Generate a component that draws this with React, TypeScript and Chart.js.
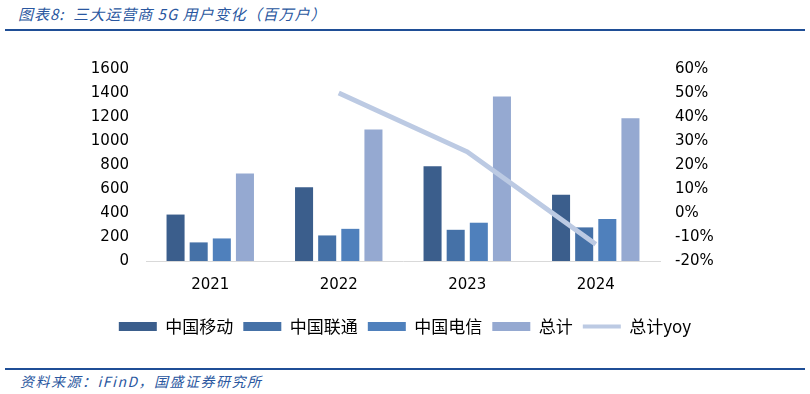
import React, { useEffect, useRef } from "react";
import { Chart, registerables } from "chart.js";

Chart.register(...registerables);

const categories = ["2021", "2022", "2023", "2024"];
const chinaMobile = [387, 614, 790, 552];
const chinaUnicom = [155, 213, 260, 280];
const chinaTelecom = [188, 268, 319, 350];
const total = [730, 1095, 1370, 1190];
const totalYoy = [null, 50, 25.5, -13];

const leftTicks = [0, 200, 400, 600, 800, 1000, 1200, 1400, 1600];
const rightTicks = [-20, -10, 0, 10, 20, 30, 40, 50, 60];

const seriesNames = ["中国移动", "中国联通", "中国电信", "总计", "总计yoy"];
const colors = ["#3B5E8C", "#4571A7", "#4F80BC", "#95A9D1", "#BCCAE3"];

const TITLE = "图表8:  三大运营商 5G 用户变化（百万户）";
const SOURCE = "资料来源：iFinD，国盛证券研究所";

export default function App() {
  const ref = useRef<HTMLCanvasElement | null>(null);

  useEffect(() => {
    document.body.style.margin = "0";
    const canvas = ref.current;
    if (!canvas) return;
    const axisFont = { family: "'DejaVu Sans', Verdana, sans-serif", size: 15 };
    const chart = new Chart(canvas, {
      type: "bar",
      data: {
        labels: categories,
        datasets: [
          { type: "line", label: seriesNames[4], data: totalYoy as any, yAxisID: "y2", borderColor: colors[4], backgroundColor: colors[4], borderWidth: 5, pointRadius: 0, tension: 0, order: 0, spanGaps: false },
          { label: seriesNames[0], data: chinaMobile, backgroundColor: colors[0], yAxisID: "y", order: 1 },
          { label: seriesNames[1], data: chinaUnicom, backgroundColor: colors[1], yAxisID: "y", order: 1 },
          { label: seriesNames[2], data: chinaTelecom, backgroundColor: colors[2], yAxisID: "y", order: 1 },
          { label: seriesNames[3], data: total, backgroundColor: colors[3], yAxisID: "y", order: 1 },
        ],
      },
      options: {
        animation: false,
        responsive: false,
        layout: { padding: { top: 29, left: 0, right: 0, bottom: 0 } },
        datasets: { bar: { categoryPercentage: 0.72, barPercentage: 0.78 } } as any,
        scales: {
          x: {
            grid: { display: false, drawTicks: false },
            border: { display: true, color: "#D9D9D9", width: 1 },
            ticks: { color: "#000", font: axisFont, padding: 15 },
            afterFit: (s: any) => { s.height = 47; },
          },
          y: {
            position: "left",
            min: 0,
            max: 1600,
            afterBuildTicks: (s: any) => { s.ticks = leftTicks.map((v) => ({ value: v })); },
            grid: { display: false, drawTicks: false },
            border: { display: false },
            ticks: { color: "#000", font: axisFont, padding: 17, callback: (v: any) => String(v) },
            afterFit: (s: any) => { s.width = 146; },
          },
          y2: {
            position: "right",
            min: -20,
            max: 60,
            afterBuildTicks: (s: any) => { s.ticks = rightTicks.map((v) => ({ value: v })); },
            grid: { display: false, drawTicks: false },
            border: { display: false },
            ticks: { color: "#000", font: axisFont, padding: 15, callback: (v: any) => `${v}%` },
            afterFit: (s: any) => { s.width = 150; },
          },
        },
        plugins: {
          tooltip: { enabled: false },
          legend: {
            position: "bottom",
            labels: {
              usePointStyle: true,
              pointStyleWidth: 38,
              boxHeight: 9,
              padding: 10,
              color: "#000",
              font: { family: "'Noto Sans CJK SC', sans-serif", size: 17 },
              generateLabels: () =>
                seriesNames.map((name, i) => ({
                  text: name,
                  fillStyle: colors[i],
                  strokeStyle: colors[i],
                  lineWidth: i === 4 ? 4 : 0,
                  pointStyle: i === 4 ? "line" : "rect",
                  hidden: false,
                  datasetIndex: i === 4 ? 0 : i + 1,
                  fontColor: "#000",
                })) as any,
            },
          },
        },
      },
    });
    return () => chart.destroy();
  }, []);

  return (
    <div style={{ position: "absolute", left: 0, top: 0, width: 810, height: 394, background: "#fff", overflow: "hidden" }}>
      <div style={{ position: "absolute", left: 18, top: 4, fontFamily: "'Noto Sans CJK SC', sans-serif", fontStyle: "italic", fontSize: 15, letterSpacing: 1, color: "#2A57A0", whiteSpace: "pre", lineHeight: "20px" }}>{TITLE}</div>
      <div style={{ position: "absolute", left: 5, top: 29, width: 800, height: 2, background: "#1F4E96" }} />
      <canvas ref={ref} width={810} height={305} style={{ position: "absolute", left: 0, top: 40, width: 810, height: 305 }} />
      <div style={{ position: "absolute", left: 5, top: 368, width: 800, height: 2, background: "#1F4E96" }} />
      <div style={{ position: "absolute", left: 20, top: 371, fontFamily: "'Noto Sans CJK SC', sans-serif", fontStyle: "italic", fontSize: 14, letterSpacing: 1.5, color: "#2A57A0", whiteSpace: "pre", lineHeight: "20px" }}>{SOURCE}</div>
    </div>
  );
}
